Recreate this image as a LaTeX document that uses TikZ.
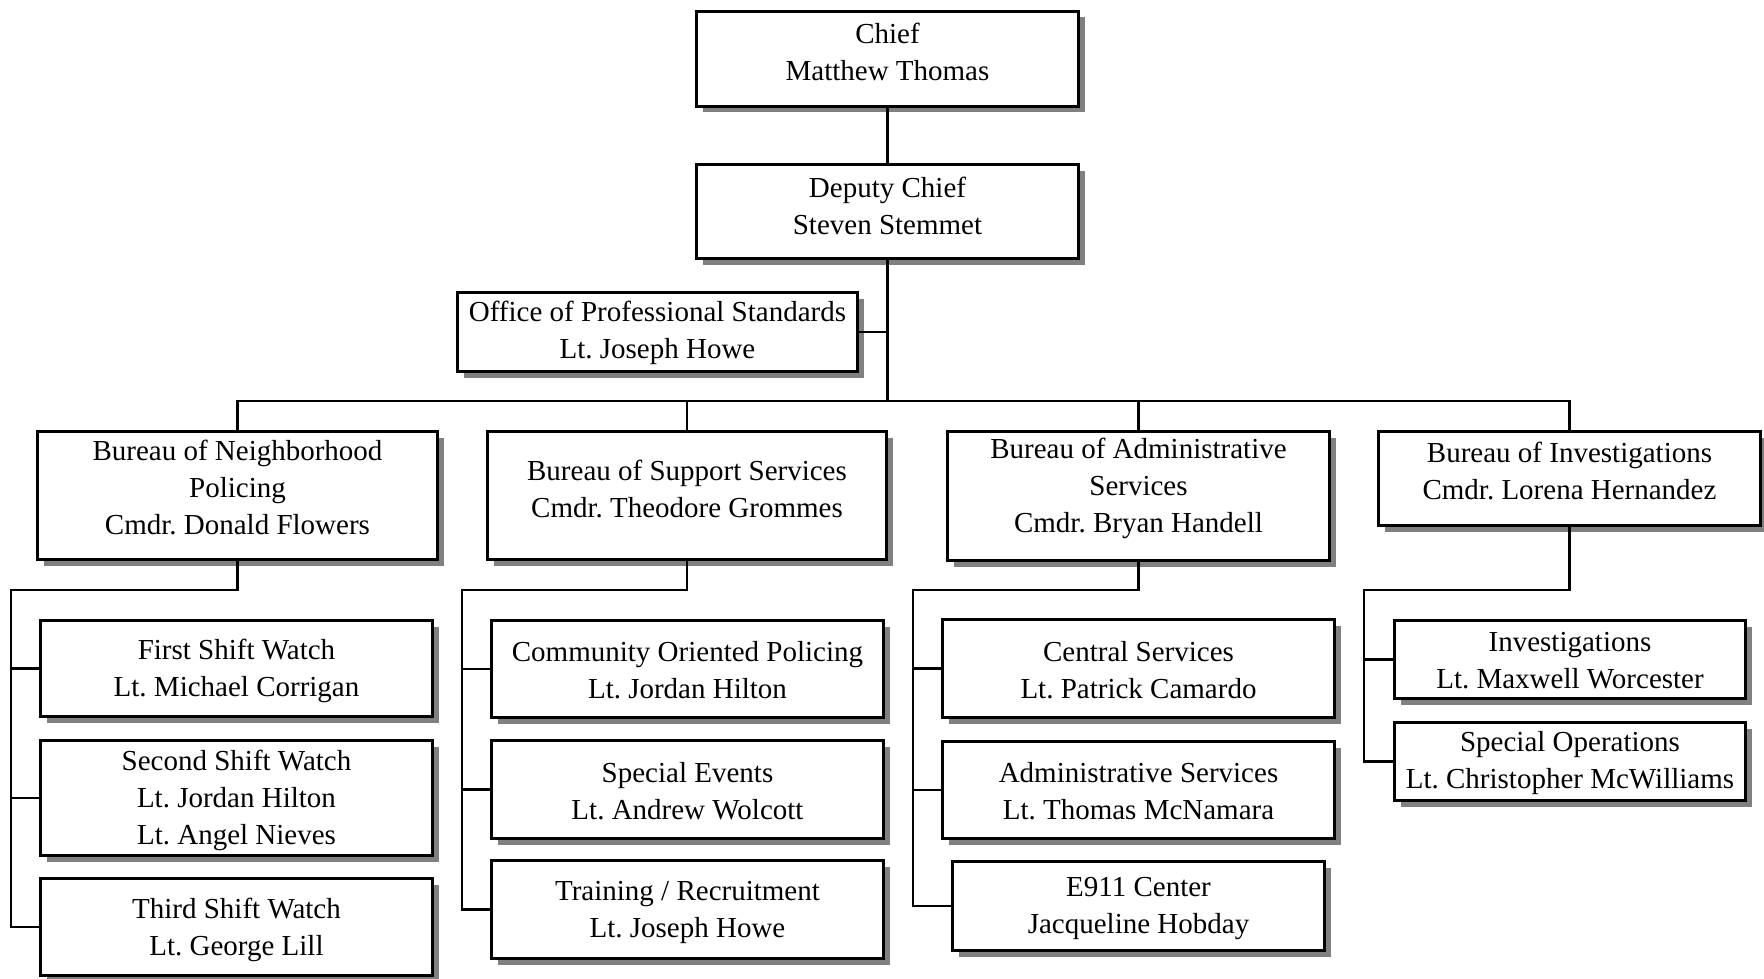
\documentclass[tikz,border=0pt]{standalone}
\usepackage{fontspec}
\setmainfont{Liberation Serif}
\frenchspacing
\usetikzlibrary{shadows}
\definecolor{shgray}{RGB}{128,128,128}
\begin{document}
\begin{tikzpicture}[x=1pt,y=-1pt,
  box/.style={draw=black, line width=3pt, fill=white, inner sep=0pt,
    drop shadow={shadow xshift=6pt, shadow yshift=-6pt, fill=shgray, opacity=1}},
  txt/.style={align=center, font=\fontsize{29}{37}\selectfont, inner sep=0pt},
  conn/.style={line width=2.6pt, line join=miter}]
\useasboundingbox (0,0) rectangle (1764,979);
\fill[white] (0,0) rectangle (1764,979);

% top
\node[box, minimum width=382pt, minimum height=95pt] (chief) at (887.5,59) {};
\node[txt] (chiefT) at ([yshift=7pt]chief.center) {Chief\\Matthew Thomas};
\node[box, minimum width=382pt, minimum height=94pt] (deputy) at (887.5,211.5) {};
\node[txt] (deputyT) at ([yshift=6pt]deputy.center) {Deputy Chief\\Steven Stemmet};
\node[box, minimum width=400pt, minimum height=79pt] (ops) at (657.5,332) {};
\node[txt] (opsT) at ([yshift=-1pt]ops.center) {Office of Professional Standards\\Lt. Joseph Howe};

% bureaus
\node[box, minimum width=400pt, minimum height=128pt] (neigh) at (237.5,495.5) {};
\node[txt] (neighT) at ([yshift=8pt]neigh.center) {Bureau of Neighborhood\\Policing\\Cmdr. Donald Flowers};
\node[box, minimum width=399pt, minimum height=128pt] (support) at (687,495.5) {};
\node[txt] (supportT) at ([yshift=6.5pt]support.center) {Bureau of Support Services\\Cmdr. Theodore Grommes};
\node[box, minimum width=382pt, minimum height=129pt] (admin) at (1138.5,496) {};
\node[txt] (adminT) at ([yshift=8pt]admin.center) {Bureau of Administrative\\Services\\Cmdr. Bryan Handell};
\node[box, minimum width=382pt, minimum height=94pt] (invest) at (1569.5,478.5) {};
\node[txt] (investT) at ([yshift=8pt]invest.center) {Bureau of Investigations\\Cmdr. Lorena Hernandez};

% neighborhood children
\node[box, minimum width=392pt, minimum height=96pt] (first) at (236.5,668.5) {};
\node[txt] (firstT) at ([yshift=-2.5pt]first.center) {First Shift Watch\\Lt. Michael Corrigan};
\node[box, minimum width=392pt, minimum height=115pt] (second) at (236.5,798) {};
\node[txt] (secondT) at ([yshift=-2.5pt]second.center) {Second Shift Watch\\Lt. Jordan Hilton\\Lt. Angel Nieves};
\node[box, minimum width=392pt, minimum height=97pt] (third) at (236.5,927) {};
\node[txt] (thirdT) at ([yshift=-3pt]third.center) {Third Shift Watch\\Lt. George Lill};

% support children
\node[box, minimum width=392pt, minimum height=97pt] (cop) at (687.5,669) {};
\node[txt] (copT) at ([yshift=-1.5pt]cop.center) {Community Oriented Policing\\Lt. Jordan Hilton};
\node[box, minimum width=392pt, minimum height=98pt] (sev) at (687.5,789.5) {};
\node[txt] (sevT) at ([yshift=-2pt]sev.center) {Special Events\\Lt. Andrew Wolcott};
\node[box, minimum width=392pt, minimum height=98pt] (trn) at (687.5,909.5) {};
\node[txt] (trnT) at ([yshift=-3pt]trn.center) {Training / Recruitment\\Lt. Joseph Howe};

% admin children
\node[box, minimum width=392pt, minimum height=98pt] (central) at (1138.5,668.5) {};
\node[txt] (centralT) at ([yshift=-2pt]central.center) {Central Services\\Lt. Patrick Camardo};
\node[box, minimum width=392pt, minimum height=97pt] (adsvc) at (1138.5,790) {};
\node[txt] (adsvcT) at ([yshift=-1.5pt]adsvc.center) {Administrative Services\\Lt. Thomas McNamara};
\node[box, minimum width=372pt, minimum height=89pt] (e911) at (1138.5,906) {};
\node[txt] (e911T) at ([yshift=-3pt]e911.center) {E911 Center\\Jacqueline Hobday};

% investigations children
\node[box, minimum width=351pt, minimum height=78pt] (inv) at (1570,659.5) {};
\node[txt] (invT) at ([yshift=-1pt]inv.center) {Investigations\\Lt. Maxwell Worcester};
\node[box, minimum width=351pt, minimum height=78pt] (spec) at (1570,761.5) {};
\node[txt] (specT) at ([yshift=-2pt]spec.center) {Special Operations\\Lt. Christopher McWilliams};

% connectors
\coordinate (bus) at (887.5,401);
\draw[conn] (chief.south) -- (deputy.north);
\draw[conn] (deputy.south) -- (bus);
\draw[conn] (ops.east) -- (ops.east -| bus);
\draw[conn] (neigh.north) |- (bus) -| (invest.north);
\draw[conn] (support.north) -- (support.north |- bus);
\draw[conn] (admin.north) -- (admin.north |- bus);

\coordinate (nTop) at (11,590);
\draw[conn] (neigh.south) |- (nTop) |- (third.west);
\draw[conn] (nTop |- first.west) -- (first.west);
\draw[conn] (nTop |- second.west) -- (second.west);

\coordinate (sTop) at (462,590);
\draw[conn] (support.south) |- (sTop) |- (trn.west);
\draw[conn] (sTop |- cop.west) -- (cop.west);
\draw[conn] (sTop |- sev.west) -- (sev.west);

\coordinate (aTop) at (913,590);
\draw[conn] (admin.south) |- (aTop) |- (e911.west);
\draw[conn] (aTop |- central.west) -- (central.west);
\draw[conn] (aTop |- adsvc.west) -- (adsvc.west);

\coordinate (iTop) at (1364,590);
\draw[conn] (invest.south) |- (iTop) |- (spec.west);
\draw[conn] (iTop |- inv.west) -- (inv.west);
\end{tikzpicture}
\end{document}
